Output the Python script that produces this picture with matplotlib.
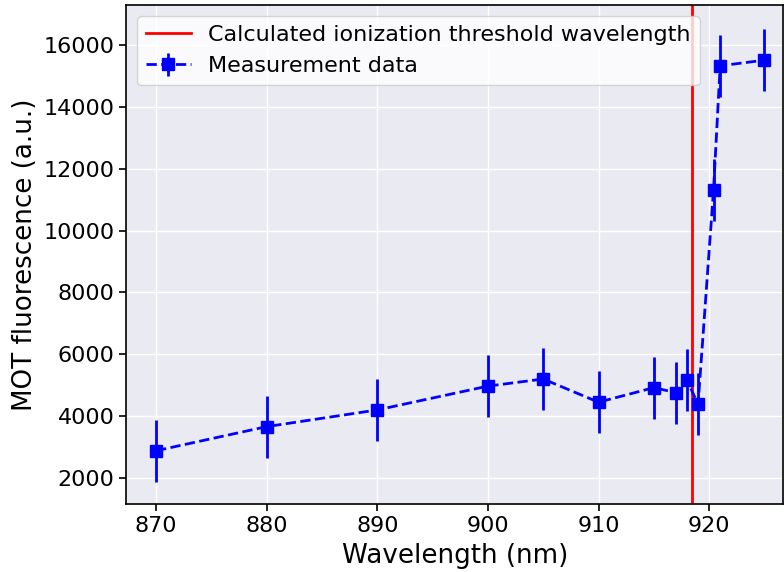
import matplotlib
matplotlib.use("Agg")
import matplotlib.pyplot as plt
import numpy as np

wavelength = [870, 880, 890, 900, 905, 910, 915, 917, 918, 919, 920.4, 921, 925]
fluorescence = [2880, 3660, 4200, 4970, 5200, 4450, 4920, 4760, 5160, 4380, 11310, 15330, 15510]
errors = [1000] * len(wavelength)
threshold = 918.45

fig = plt.figure(figsize=(7.84, 5.72), dpi=100)
ax = fig.add_axes([0.161, 0.119, 0.838, 0.872])
ax.set_facecolor("#EAEAF2")
ax.grid(True, color="white", linewidth=1.0)
ax.set_axisbelow(True)
for s in ax.spines.values():
    s.set_color("black")
    s.set_linewidth(1.2)

ax.axvline(threshold, color="red", linewidth=2, label="Calculated ionization threshold wavelength")
ax.errorbar(wavelength, fluorescence, yerr=errors, fmt="s--", color="blue",
            markersize=8, linewidth=2, elinewidth=2, label="Measurement data")

ax.set_xlim(867.3, 926.7)
ax.set_ylim(1160, 17290)
ax.set_xticks([870, 880, 890, 900, 910, 920])
ax.set_yticks(range(2000, 16001, 2000))
ax.tick_params(labelsize=16, length=5, width=1.2, direction="out")
ax.set_xlabel("Wavelength (nm)", fontsize=18.8, labelpad=5)
ax.set_ylabel("MOT fluorescence (a.u.)", fontsize=18.8)
leg = ax.legend(loc="upper left", fontsize=16, framealpha=0.8, facecolor="white", edgecolor="#cccccc")

fig.savefig("out.png", dpi=100)
